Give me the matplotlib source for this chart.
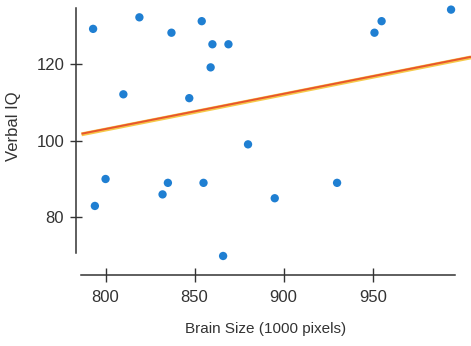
import numpy as np
import matplotlib.pyplot as plt

# Brain size (1000 pixels) vs verbal IQ
brain_size = [793, 819, 837, 854, 860, 869, 859, 810, 847,
              955, 951, 994,
              880, 800, 835, 855, 832, 794, 895, 866, 930]
verbal_iq = [129, 132, 128, 131, 125, 125, 119, 112, 111,
             131, 128, 134,
             99, 90, 89, 89, 86, 83, 85, 70, 89]

# Fitted line
line_x0 = 786.5
line_y0 = 101.6
line_slope = 0.0914

x_ticks = [800, 850, 900, 950]
y_ticks = [80, 100, 120]

plt.rcParams['font.family'] = ['Liberation Sans', 'DejaVu Sans']

fig = plt.figure(figsize=(4.71, 3.46), dpi=100)
ax = fig.add_axes([76 / 471, (346 - 275) / 346, 395 / 471, 270 / 346])

ax.set_xlim(783.4, 1005.2)
ax.set_ylim(65.06, 135.2)

lx = np.array([line_x0, 1005.2])
ly = line_y0 + line_slope * (lx - line_x0)
ax.plot(lx, ly, color='#f6c94a', lw=2.8, solid_capstyle='butt', zorder=2)
ax.plot(lx, ly + 0.15, color='#e8552c', lw=1.4, solid_capstyle='butt', zorder=3)

ax.scatter(brain_size, verbal_iq, s=36, color='#1f7fd2', edgecolors='none', zorder=4)

for side in ['top', 'right']:
    ax.spines[side].set_visible(False)
for side in ['left', 'bottom']:
    ax.spines[side].set_color('#333333')
    ax.spines[side].set_linewidth(1.1)
ax.spines['left'].set_bounds(70.8, 134.4)
ax.spines['bottom'].set_bounds(786, 996)

ax.set_xticks(x_ticks)
ax.set_yticks(y_ticks)
ax.tick_params(axis='x', direction='inout', length=10, width=1, color='#333333',
               labelsize=12, labelcolor='#333333', pad=6)
ax.tick_params(axis='y', direction='inout', length=9, width=1, color='#333333',
               labelsize=12, labelcolor='#333333', pad=4)

ax.set_xlabel('Brain Size (1000 pixels)', fontsize=11, color='#333333')
ax.xaxis.set_label_coords(0.481, -0.175)
ax.set_ylabel('Verbal IQ', fontsize=12, color='#333333')
ax.yaxis.set_label_coords(-0.14, 0.55)

fig.savefig('out.png', dpi=100)
